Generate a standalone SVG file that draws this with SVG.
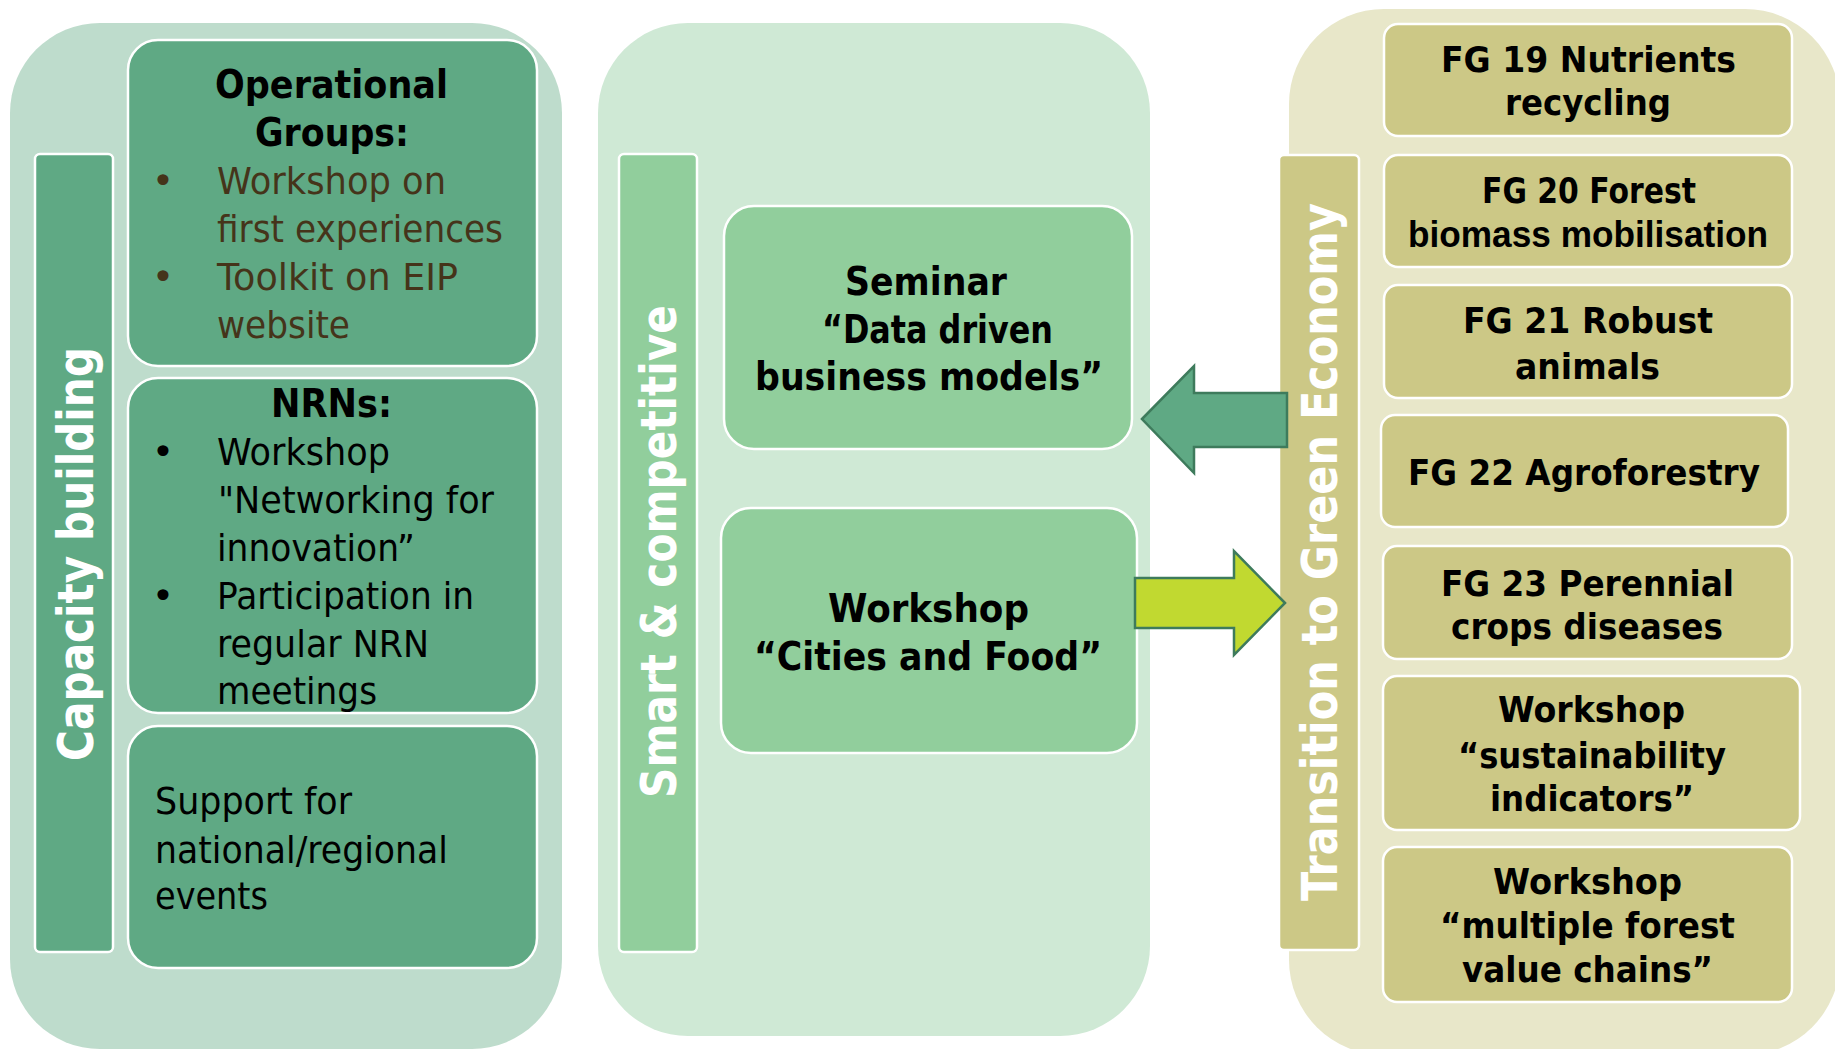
<svg xmlns="http://www.w3.org/2000/svg" width="1835" height="1049" viewBox="0 0 1835 1049">
<style>
.panelL{fill:#bedccc}
.panelM{fill:#cfe9d5}
.panelR{fill:#e8e7c9}
.boxL{fill:#5fa984;stroke:#ffffff;stroke-width:2.5}
.boxM{fill:#91ce9c;stroke:#ffffff;stroke-width:2.5}
.boxR{fill:#ccc886;stroke:#ffffff;stroke-width:2.5}
.vt{font-family:"DejaVu Sans","Verdana",sans-serif;font-weight:bold;font-size:49px;fill:#ffffff}
.b{font-family:"DejaVu Sans","Tahoma",sans-serif;font-weight:bold;font-size:39px;fill:#000000}
.bf{font-family:"DejaVu Sans","Tahoma",sans-serif;font-weight:bold;font-size:36px;fill:#000000}
.bn{font-family:"Liberation Sans","Arial",sans-serif;font-weight:bold;font-size:37px;fill:#000000}
.r{font-family:"DejaVu Sans","Tahoma",sans-serif;font-size:38px;fill:#000000}
.br{fill:#45341a}
</style>

<!-- background panels -->
<rect class="panelL" x="10" y="23" width="552" height="1026" rx="90" ry="90"/>
<rect class="panelM" x="598" y="23" width="552" height="1013" rx="90" ry="90"/>
<rect class="panelR" x="1289" y="9" width="551" height="1046" rx="95" ry="95"/>

<!-- Left column -->
<g id="capacity-building">
<rect class="boxL" x="35" y="154" width="78" height="798" rx="5"/>
<text class="vt" transform="translate(93,761) rotate(-90)" textLength="414" lengthAdjust="spacingAndGlyphs">Capacity building</text>
</g>

<g id="operational-groups">
<rect class="boxL" x="128" y="40" width="409" height="326" rx="30"/>
<text class="b" x="215" y="98" textLength="233" lengthAdjust="spacingAndGlyphs">Operational</text>
<text class="b" x="255" y="146" textLength="154" lengthAdjust="spacingAndGlyphs">Groups:</text>
<text class="r br" x="163" y="194" text-anchor="middle">•</text>
<text class="r br" x="217" y="194" textLength="229" lengthAdjust="spacingAndGlyphs">Workshop on</text>
<text class="r br" x="217" y="242" textLength="286" lengthAdjust="spacingAndGlyphs">first experiences</text>
<text class="r br" x="163" y="290" text-anchor="middle">•</text>
<text class="r br" x="217" y="290" textLength="241" lengthAdjust="spacingAndGlyphs">Toolkit on EIP</text>
<text class="r br" x="217" y="338" textLength="133" lengthAdjust="spacingAndGlyphs">website</text>
</g>

<g id="nrns">
<rect class="boxL" x="128" y="378" width="409" height="335" rx="30"/>
<text class="b" x="271" y="417" textLength="121" lengthAdjust="spacingAndGlyphs">NRNs:</text>
<text class="r" x="163" y="465" text-anchor="middle">•</text>
<text class="r" x="217" y="465" textLength="173" lengthAdjust="spacingAndGlyphs">Workshop</text>
<text class="r" x="218" y="513" textLength="276" lengthAdjust="spacingAndGlyphs">"Networking for</text>
<text class="r" x="217" y="561" textLength="198" lengthAdjust="spacingAndGlyphs">innovation”</text>
<text class="r" x="163" y="609" text-anchor="middle">•</text>
<text class="r" x="217" y="609" textLength="257" lengthAdjust="spacingAndGlyphs">Participation in</text>
<text class="r" x="217" y="657" textLength="212" lengthAdjust="spacingAndGlyphs">regular NRN</text>
<text class="r" x="217" y="704" textLength="160" lengthAdjust="spacingAndGlyphs">meetings</text>
</g>

<g id="support-events">
<rect class="boxL" x="128" y="726" width="409" height="242" rx="30"/>
<text class="r" x="155" y="814" textLength="197" lengthAdjust="spacingAndGlyphs">Support for</text>
<text class="r" x="155" y="863" textLength="293" lengthAdjust="spacingAndGlyphs">national/regional</text>
<text class="r" x="155" y="909" textLength="113" lengthAdjust="spacingAndGlyphs">events</text>
</g>

<!-- Middle column -->
<g id="smart-competitive">
<rect class="boxM" x="619" y="154" width="78" height="798" rx="5"/>
<text class="vt" transform="translate(676,798) rotate(-90)" textLength="493" lengthAdjust="spacingAndGlyphs">Smart &amp; competitive</text>
</g>

<g id="seminar-data">
<rect class="boxM" x="724" y="206" width="408" height="243" rx="30"/>
<text class="b" x="845" y="295" textLength="162" lengthAdjust="spacingAndGlyphs">Seminar</text>
<text class="b" x="822" y="343" textLength="231" lengthAdjust="spacingAndGlyphs">“Data driven</text>
<text class="b" x="755" y="390" textLength="348" lengthAdjust="spacingAndGlyphs">business models”</text>
</g>

<g id="workshop-cities">
<rect class="boxM" x="721" y="508" width="416" height="245" rx="30"/>
<text class="b" x="828" y="622" textLength="201" lengthAdjust="spacingAndGlyphs">Workshop</text>
<text class="b" x="754" y="670" textLength="348" lengthAdjust="spacingAndGlyphs">“Cities and Food”</text>
</g>

<!-- Right column -->
<g id="transition-green-economy">
<rect class="boxR" x="1279" y="155" width="80" height="795" rx="5"/>
<text class="vt" transform="translate(1337,901) rotate(-90)" textLength="698" lengthAdjust="spacingAndGlyphs">Transition to Green Economy</text>
</g>

<g id="fg19">
<rect class="boxR" x="1384" y="24" width="408" height="112" rx="14"/>
<text class="bf" x="1441" y="72" textLength="295" lengthAdjust="spacingAndGlyphs">FG 19 Nutrients</text>
<text class="bf" x="1505" y="115" textLength="166" lengthAdjust="spacingAndGlyphs">recycling</text>
</g>
<g id="fg20">
<rect class="boxR" x="1384" y="155" width="408" height="112" rx="14"/>
<text class="bf" x="1482" y="203" textLength="214" lengthAdjust="spacingAndGlyphs">FG 20 Forest</text>
<text class="bn" x="1588" y="247" text-anchor="middle" textLength="360" lengthAdjust="spacingAndGlyphs">biomass mobilisation</text>
</g>
<g id="fg21">
<rect class="boxR" x="1384" y="285" width="408" height="113" rx="14"/>
<text class="bf" x="1463" y="333" textLength="250" lengthAdjust="spacingAndGlyphs">FG 21 Robust</text>
<text class="bf" x="1515" y="379" textLength="145" lengthAdjust="spacingAndGlyphs">animals</text>
</g>
<g id="fg22">
<rect class="boxR" x="1381" y="415" width="407" height="112" rx="14"/>
<text class="bf" x="1408" y="485" textLength="352" lengthAdjust="spacingAndGlyphs">FG 22 Agroforestry</text>
</g>
<g id="fg23">
<rect class="boxR" x="1383" y="546" width="409" height="113" rx="14"/>
<text class="bf" x="1441" y="596" textLength="293" lengthAdjust="spacingAndGlyphs">FG 23 Perennial</text>
<text class="bf" x="1451" y="639" textLength="272" lengthAdjust="spacingAndGlyphs">crops diseases</text>
</g>
<g id="workshop-sustainability">
<rect class="boxR" x="1383" y="676" width="417" height="154" rx="14"/>
<text class="bf" x="1498" y="722" textLength="187" lengthAdjust="spacingAndGlyphs">Workshop</text>
<text class="bf" x="1458" y="768" textLength="268" lengthAdjust="spacingAndGlyphs">“sustainability</text>
<text class="bf" x="1490" y="811" textLength="204" lengthAdjust="spacingAndGlyphs">indicators”</text>
</g>
<g id="workshop-forest-value-chains">
<rect class="boxR" x="1383" y="847" width="409" height="155" rx="14"/>
<text class="bf" x="1493" y="894" textLength="189" lengthAdjust="spacingAndGlyphs">Workshop</text>
<text class="bf" x="1440" y="938" textLength="295" lengthAdjust="spacingAndGlyphs">“multiple forest</text>
<text class="bf" x="1462" y="982" textLength="251" lengthAdjust="spacingAndGlyphs">value chains”</text>
</g>

<!-- connectors -->
<g id="connectors" stroke="#3e7b5c" stroke-width="2.5" stroke-linejoin="miter">
<polygon fill="#5fa984" points="1142,419 1194,366 1194,393 1287,393 1287,447 1194,447 1194,473"/>
<polygon fill="#c1d930" points="1285,603 1234,551 1234,578 1135,578 1135,628 1234,628 1234,655"/>
</g>
</svg>
